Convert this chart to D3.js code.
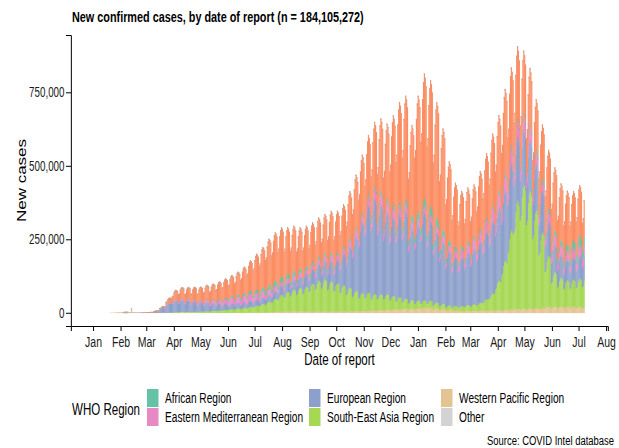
<!DOCTYPE html>
<html>
<head>
<meta charset="utf-8">
<script src="https://cdn.jsdelivr.net/npm/d3@7"></script>
<style>
  body { margin: 0; background: #fff; }
  svg { display: block; }
  text { font-family: "Liberation Sans", Arial, Helvetica, sans-serif; }
</style>
</head>
<body>
<div id="chart"></div>
<script>
// The reference is a ggplot export squeezed horizontally, so the whole svg is
// laid out in "unsqueezed" units and compressed back with the viewBox.
var squeeze = 0.7;
var svgWidth = 619;
var svgHeight = 448;
var sx = v => v / squeeze;   // reference px -> layout units (x only)

// ---- data: weekly average of daily new cases, thousands, weeks start Monday ----
var firstWeek = "2020-01-20";
var lastDate = "2021-07-07";

// day-of-week reporting pattern (Mon..Sun)
var weekdayFactor = [0.8, 0.84, 1.0, 1.08, 1.12, 1.1, 1.06];

var westernPacific = [
  0.4, 2.0, 3.0, 2.5, 1.2, 0.9, 0.8, 0.6, 0.8, 1.0,
  1.5, 1.8, 1.5, 1.0, 0.6, 0.6, 0.6, 0.6, 0.7, 0.8,
  0.9, 1.0, 1.2, 1.5, 2.0, 2.8, 3.5, 4.5, 5.0, 5.5,
  6.0, 5.5, 5.0, 5.0, 5.0, 5.0, 5.0, 5.2, 5.5, 6.0,
  6.5, 7.0, 8.0, 9.5, 10.5, 11, 12.5, 13.5, 14, 14.5,
  17, 17, 14, 12, 10, 8, 6.5, 7, 7, 7.5,
  8, 8.5, 9, 10, 12, 13, 13, 14, 15, 16,
  20, 20, 20, 20, 20, 20, 20
];
var southEastAsia = [
  0, 0, 0, 0, 0, 0, 0.01, 0.03, 0.1, 0.4,
  1, 1.5, 2.2, 3, 4, 5, 6, 7.5, 9, 11,
  13, 15, 18, 21, 26, 32, 40, 51, 60, 66,
  71, 75, 85, 94, 98, 92, 86, 80, 72, 62,
  55, 55, 50, 48, 47, 42, 36, 31, 26, 24,
  22, 21, 18, 16, 14, 14, 15, 18, 20, 24,
  35, 52, 90, 150, 240, 330, 380, 360, 300, 230,
  155, 105, 88, 80, 82, 85, 90
];
var european = [
  0, 0, 0.01, 0.01, 0.01, 0.15, 1.0, 4.5, 14, 28,
  35, 36, 34, 30, 26, 25, 22, 20, 18, 17,
  17, 17, 19, 19, 19, 20, 23, 26, 28, 31,
  35, 40, 45, 50, 57, 63, 70, 95, 125, 165,
  215, 265, 290, 275, 250, 240, 250, 265, 220, 230,
  265, 240, 215, 190, 165, 150, 150, 160, 170, 185,
  205, 220, 225, 215, 205, 195, 165, 155, 140, 125,
  105, 85, 70, 62, 65, 70, 80
];
var easternMediterranean = [
  0, 0, 0, 0, 0, 0.1, 0.8, 1.5, 2.5, 3.5,
  4.5, 5, 5.5, 6.5, 7, 9, 11, 13, 15, 18,
  20, 21, 22, 20, 19, 18, 17, 15.5, 14, 14,
  14, 14, 15, 16, 17, 18, 19, 20, 21, 24,
  26, 30, 33, 34, 33, 31, 28, 25, 23, 22,
  22, 22, 21, 20, 20, 21, 24, 28, 32, 35,
  38, 42, 45, 48, 48, 48, 46, 42, 36, 32,
  30, 30, 30, 30, 32, 33, 35
];
var african = [
  0, 0, 0, 0, 0, 0, 0.01, 0.05, 0.2, 0.5,
  0.8, 1, 1.3, 1.6, 2, 2.5, 3, 3.5, 4, 5,
  6, 7, 8.5, 10, 12, 13.5, 15, 15, 14, 12,
  10, 9, 8, 7.5, 7, 6.5, 6, 6, 6, 6,
  6, 7, 8, 9, 9.5, 10, 12, 15, 18, 22,
  26, 27, 24, 19, 15, 12, 10, 8.5, 7.5, 7,
  7, 7, 7.5, 8, 8.5, 8, 7.5, 7.5, 8, 9,
  10, 12, 15, 19, 24, 30, 33
];
var americas = [
  0, 0, 0, 0, 0, 0.01, 0.05, 0.4, 3, 13,
  27, 33, 34, 37, 40, 43, 46, 51, 58, 63,
  68, 79, 91, 108, 122, 139, 146, 148, 139, 136,
  124, 121, 117, 117, 116, 125, 124, 124, 140, 157,
  172, 176, 191, 215, 225, 266, 302, 310, 269, 347,
  375, 380, 348, 303, 236, 190, 165, 159, 153, 172,
  192, 215, 224, 249, 232, 216, 185, 165, 150, 160,
  175, 190, 170, 160, 147, 150, 125
];
var other = [
  0, 0, 0, 0.05, 0.1, 0, 0, 0, 0, 0,
  0, 0, 0, 0, 0, 0, 0, 0, 0, 0,
  0, 0, 0, 0, 0, 0, 0, 0, 0, 0,
  0, 0, 0, 0, 0, 0, 0, 0, 0, 0,
  0, 0, 0, 0, 0, 0, 0, 0, 0, 0,
  0, 0, 0, 0, 0, 0, 0, 0, 0, 0,
  0, 0, 0, 0, 0, 0, 0, 0, 0, 0,
  0, 0, 0, 0, 0, 0, 0
];
// single-day report that stands out (Hubei reclassification)
var singleDays = [{ date: "2020-02-13", key: "wpr", value: 15 }];

// stacking order, bottom to top
var keys = ["wpr", "sear", "eur", "emr", "afr", "amr", "other"];
var series = { wpr: westernPacific, sear: southEastAsia, eur: european,
  emr: easternMediterranean, afr: african, amr: americas, other: other };
var colors = { afr: "#66c2a5", amr: "#fc8d62", emr: "#e78ac3", eur: "#8da0cb",
  sear: "#a6d854", wpr: "#e5c494", other: "#d3d3d3" };

// legend entries as they appear (two rows, filled by column)
var legendKeys = ["afr", "emr", "eur", "sear", "wpr", "other"];
var legendLabels = ["African Region", "Eastern Mediterranean Region", "European Region",
  "South-East Asia Region", "Western Pacific Region", "Other"];

var yTicks = [0, 250000, 500000, 750000];

// ---- build the daily table ----
var parse = d3.utcParse("%Y-%m-%d");
var start = parse(firstWeek), end = parse(lastDate);
var days = [];
westernPacific.forEach(function(_, w) {
  for (var d = 0; d < 7; d++) {
    var date = d3.utcDay.offset(start, w * 7 + d);
    if (date > end) break;
    var row = { date: date };
    keys.forEach(k => { row[k] = series[k][w] * weekdayFactor[d] * 1000; });
    days.push(row);
  }
});
singleDays.forEach(function(s) {
  var t = parse(s.date).getTime();
  days.forEach(r => { if (r.date.getTime() === t) r[s.key] = s.value * 1000; });
});

// ---- svg ----
var svg = d3.select("#chart").append("svg")
  .attr("width", svgWidth)
  .attr("height", svgHeight)
  .attr("viewBox", `0 0 ${svgWidth / squeeze} ${svgHeight}`)
  .attr("preserveAspectRatio", "none");

var plotLeft = 71, plotRight = 608, plotTop = 35, plotBottom = 326;

var x = d3.scaleUtc()
  .domain([Date.UTC(2019, 11, 7), Date.UTC(2021, 7, 3)])
  .range([sx(plotLeft), sx(plotRight)]);
var y = d3.scaleLinear()
  .domain([-45000, 945000])
  .range([plotBottom, plotTop]);

var dayW = x(Date.UTC(2020, 0, 2)) - x(Date.UTC(2020, 0, 1));
var barW = dayW * 1.3;   // slight overlap so antialiased seams don't wash out colours
var stacked = d3.stack().keys(keys)(days);
var dayTotal = r => keys.reduce((a, k) => a + r[k], 0);

var barsGroup = svg.append("g");
barsGroup.selectAll("g")
  .data(stacked)
  .enter()
  .append("g")
  .attr("fill", s => colors[s.key])
  .selectAll("rect")
  .data(s => s.filter(p => p[1] > p[0]))
  .enter()
  .append("rect")
  .attr("x", p => x(p.data.date) - dayW * 0.5)
  .attr("width", barW)
  .attr("y", p => y(p[1]))
  .attr("height", p => y(p[0]) - y(p[1]) + 0.3);

// thin grey outline on the top of each daily bar
barsGroup.append("g")
  .attr("fill", "#bfa597")
  .selectAll("rect")
  .data(days.filter(r => dayTotal(r) > 3000))
  .enter()
  .append("rect")
  .attr("x", r => x(r.date) - dayW * 0.5)
  .attr("width", dayW)
  .attr("y", r => y(dayTotal(r)))
  .attr("height", 1.5);

// ---- axes ----
var months = d3.utcMonth.range(Date.UTC(2020, 0, 1), Date.UTC(2021, 7, 2));
var bottomAxis = d3.axisBottom(x)
  .tickValues(months)
  .tickFormat(d3.utcFormat("%b"))
  .tickSizeOuter(0)
  .tickSize(5)
  .tickPadding(5);
var leftAxis = d3.axisLeft(y)
  .tickValues(yTicks)
  .tickFormat(d3.format(","))
  .tickSizeOuter(0)
  .tickSize(sx(5))
  .tickPadding(sx(1.5));

var xAxis = svg.append("g")
  .attr("transform", `translate(0, ${plotBottom})`)
  .call(bottomAxis);
var yAxis = svg.append("g")
  .attr("transform", `translate(${sx(plotLeft)}, 0)`)
  .call(leftAxis);

[xAxis, yAxis].forEach(function(a) {
  a.selectAll("path, line")
    .attr("stroke", "#000")
    .attr("stroke-width", 1)
    .attr("vector-effect", "non-scaling-stroke");
  a.selectAll("text")
    .attr("fill", "#1a1a1a")
    .style("font-family", "'Liberation Sans', Arial, sans-serif");
});
xAxis.selectAll("text").style("font-size", "15px");
yAxis.selectAll("text").style("font-size", "14px");

// ---- labels ----
svg.append("text")
  .attr("x", sx(72))
  .attr("y", 22.5)
  .style("font-size", "15.5px")
  .style("font-weight", "bold")
  .attr("fill", "#000")
  .text("New confirmed cases, by date of report (n = 184,105,272)");

svg.append("text")
  .attr("transform", `translate(${sx(25.5)}, ${(plotTop + plotBottom) / 2}) rotate(-90)`)
  .attr("text-anchor", "middle")
  .style("font-size", "17px")
  .attr("fill", "#000")
  .text("New cases");

svg.append("text")
  .attr("x", sx((plotLeft + plotRight) / 2))
  .attr("y", 365)
  .attr("text-anchor", "middle")
  .style("font-size", "16.5px")
  .attr("fill", "#000")
  .text("Date of report");

// ---- legend ----
var legend = svg.append("g");
legend.append("text")
  .attr("x", sx(72))
  .attr("y", 415)
  .style("font-size", "16.5px")
  .attr("fill", "#000")
  .text("WHO Region");

var legendCols = [147, 309, 441];
var legendRows = [389, 408];
legendKeys.forEach(function(k, i) {
  var cx = legendCols[Math.floor(i / 2)];
  var ry = legendRows[i % 2];
  legend.append("rect")
    .attr("x", sx(cx))
    .attr("y", ry)
    .attr("width", sx(11.5))
    .attr("height", 18)
    .attr("fill", colors[k]);
  legend.append("text")
    .attr("x", sx(cx + 18))
    .attr("y", ry + 14)
    .style("font-size", "14.5px")
    .attr("fill", "#000")
    .text(legendLabels[i]);
});

svg.append("text")
  .attr("x", sx(614))
  .attr("y", 445)
  .attr("text-anchor", "end")
  .style("font-size", "13.5px")
  .attr("fill", "#000")
  .text("Source: COVID Intel database");
</script>
</body>
</html>
